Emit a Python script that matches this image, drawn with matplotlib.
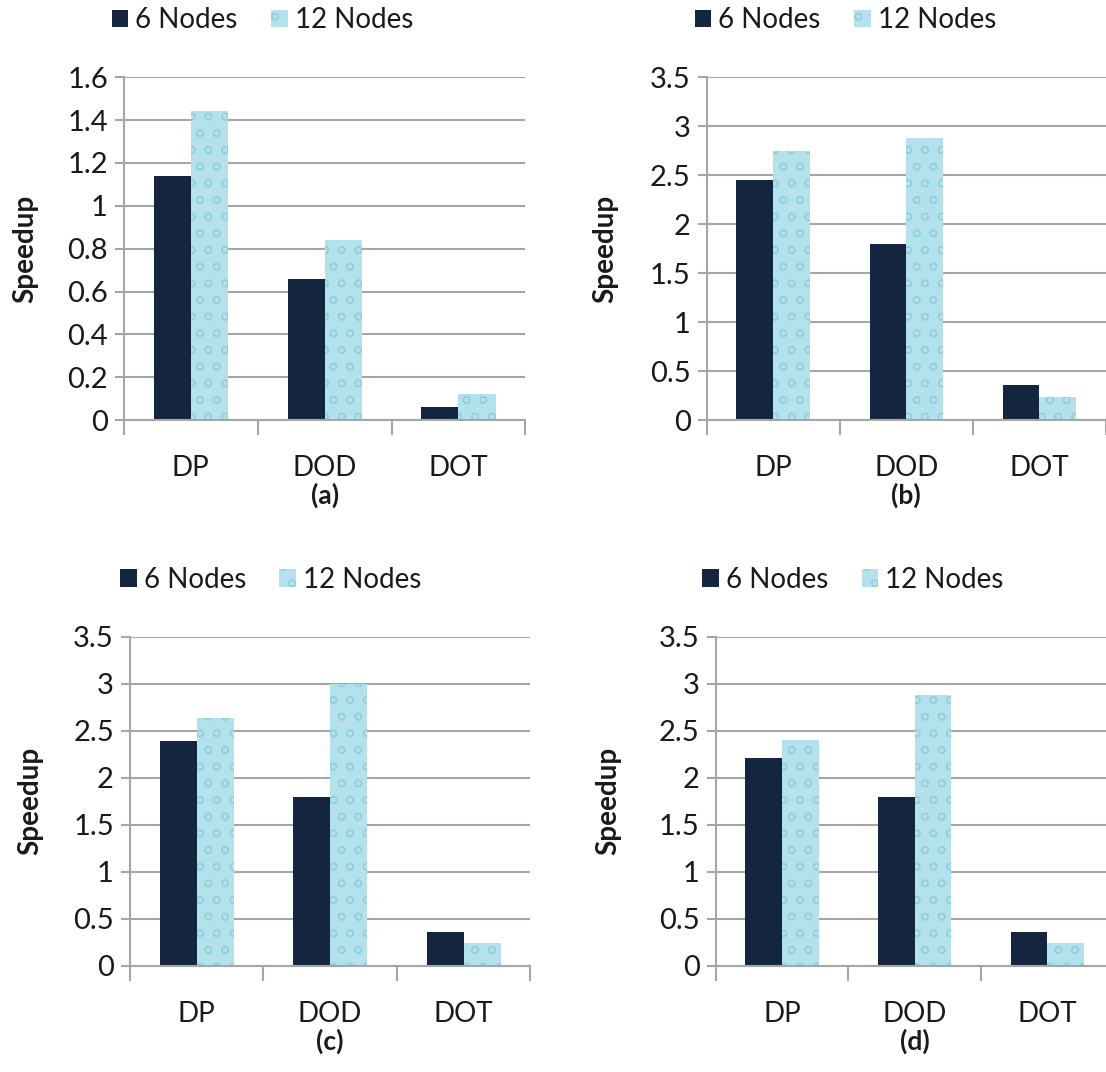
import matplotlib

matplotlib.use("Agg")
import matplotlib.pyplot as plt
import numpy as np

plt.rcParams["font.family"] = ["Lato", "DejaVu Sans"]
plt.rcParams["hatch.linewidth"] = 1.0

categories = ["DP", "DOD", "DOT"]
series_names = ["6 Nodes", "12 Nodes"]

nodes6_a = [1.14, 0.66, 0.06]
nodes12_a = [1.44, 0.84, 0.12]
nodes6_b = [2.45, 1.80, 0.36]
nodes12_b = [2.75, 2.88, 0.24]
nodes6_c = [2.39, 1.80, 0.36]
nodes12_c = [2.64, 3.00, 0.24]
nodes6_d = [2.21, 1.80, 0.36]
nodes12_d = [2.40, 2.88, 0.24]

panel_labels = ["(a)", "(b)", "(c)", "(d)"]
ymax_list = [1.6, 3.5, 3.5, 3.5]
ystep_list = [0.2, 0.5, 0.5, 0.5]

DARK = "#14263f"
LIGHT = "#b3e2ed"
LIGHT_HATCH = "#93d0df"
GRID = "#a6a6a6"
TEXT = "#1a1a1a"

# axes rectangles in figure fractions (left, bottom, width, height)
rects = [
    (0.112, 0.608, 0.363, 0.320),
    (0.639, 0.608, 0.361, 0.320),
    (0.1175, 0.099, 0.362, 0.307),
    (0.647, 0.099, 0.36, 0.307),
]
legend_x = [-0.03, -0.03, -0.025, -0.033]
legend_y = [1.166, 1.166, 1.173, 1.173]
ylabel_x = [-0.245, -0.255, -0.25, -0.27]
sub_y = [-0.22, -0.22, -0.23, -0.23]

data = [
    (nodes6_a, nodes12_a),
    (nodes6_b, nodes12_b),
    (nodes6_c, nodes12_c),
    (nodes6_d, nodes12_d),
]

fig = plt.figure(figsize=(11.06, 10.72), dpi=100)

bar_w = 0.277
x = np.arange(len(categories))

for i, (s6, s12) in enumerate(data):
    ax = fig.add_axes(rects[i])
    ax.set_axisbelow(True)
    ax.bar(x - bar_w / 2, s6, width=bar_w, color=DARK, label=series_names[0], zorder=2)
    ax.bar(
        x + bar_w / 2,
        s12,
        width=bar_w,
        facecolor=LIGHT,
        edgecolor=LIGHT_HATCH,
        linewidth=0,
        hatch="o",
        label=series_names[1],
        zorder=2,
    )

    ymax = ymax_list[i]
    ax.set_ylim(0, ymax)
    ax.set_xlim(-0.5, len(categories) - 0.5)
    yt = np.arange(0, ymax + 1e-9, ystep_list[i])
    ax.set_yticks(yt)
    ax.set_yticklabels([f"{v:g}" for v in yt])
    ax.yaxis.grid(True, color=GRID, linewidth=1.5)

    ax.set_xticks(x)
    ax.set_xticklabels(categories)
    ax.set_xticks(np.arange(-0.5, len(categories)), minor=True)
    ax.tick_params(axis="x", which="major", length=0, pad=25, labelsize=20, colors=TEXT)
    ax.tick_params(axis="x", which="minor", length=11, width=1.5, color=GRID, direction="out")
    ax.tick_params(axis="y", length=6.5, width=1.5, color=GRID, pad=5, labelsize=21,
                   labelcolor=TEXT)

    for side in ["top", "right"]:
        ax.spines[side].set_visible(False)
    for side in ["left", "bottom"]:
        ax.spines[side].set_color(GRID)
        ax.spines[side].set_linewidth(1.5)

    ax.text(ylabel_x[i], 0.5, "Speedup", transform=ax.transAxes, rotation=90,
            ha="center", va="center", fontsize=20, fontweight="bold", color=TEXT)
    ax.text(0.5, sub_y[i], panel_labels[i], transform=ax.transAxes, ha="center", va="center",
            fontsize=19, fontweight="bold", color=TEXT)

    ax.legend(
        loc="center left",
        bbox_to_anchor=(legend_x[i], legend_y[i]),
        ncol=2,
        frameon=False,
        fontsize=20,
        handlelength=0.6,
        handleheight=0.6,
        handletextpad=0.25,
        columnspacing=1.2,
        borderpad=0,
        borderaxespad=0,
        labelcolor=TEXT,
    )

fig.savefig("out.png", dpi=100)
